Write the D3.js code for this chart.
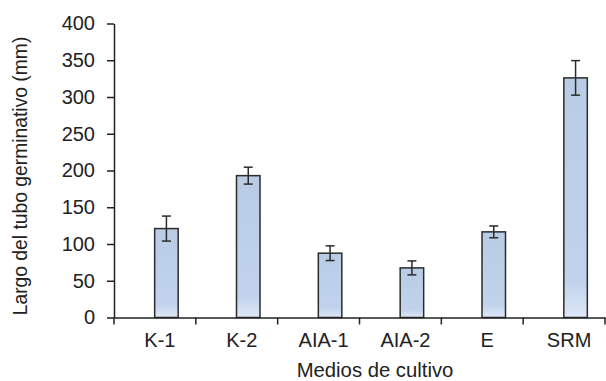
<!DOCTYPE html>
<html>
<head>
<meta charset="utf-8">
<script src="https://cdn.jsdelivr.net/npm/d3@7.9.0/dist/d3.min.js"></script>
<style>
  body { margin: 0; background: #fff; }
  svg { display: block; font-family: "Liberation Sans", Arial, sans-serif; }
</style>
</head>
<body>
<svg id="chart" width="606" height="381"></svg>
<script>
const categories = ["K-1", "K-2", "AIA-1", "AIA-2", "E", "SRM"];
const means = [121, 193, 87.5, 67.5, 116.5, 326];
const errors = [17, 11.5, 10, 9.5, 8, 23.5];
const yTicks = [0, 50, 100, 150, 200, 250, 300, 350, 400];

const svg = d3.select("#chart");
const margin = { left: 114, right: 1, top: 23.5, bottom: 63.5 };
const width = 606, height = 381;

const x = d3.scaleBand()
  .domain(categories)
  .range([margin.left, width - margin.right]);

const y = d3.scaleLinear()
  .domain([0, 400])
  .range([height - margin.bottom, margin.top]);

const defs = svg.append("defs");
const grad = defs.append("linearGradient")
  .attr("id", "barFill")
  .attr("x1", 0).attr("y1", 0).attr("x2", 0).attr("y2", 1);
grad.append("stop").attr("offset", "0%").attr("stop-color", "#b9cce5");
grad.append("stop").attr("offset", "85%").attr("stop-color", "#c0d2ec");
grad.append("stop").attr("offset", "100%").attr("stop-color", "#dfe8f7");

const barW = 23.5;
const barX = (d) => x(d) + x.bandwidth() / 2 + 11.5 - barW / 2;

// bars
svg.append("g")
  .selectAll("rect")
  .data(categories)
  .join("rect")
  .attr("x", (d) => barX(d))
  .attr("y", (d, i) => y(means[i]))
  .attr("width", barW)
  .attr("height", (d, i) => y(0) - y(means[i]))
  .attr("fill", "url(#barFill)")
  .attr("stroke", "#2b2b2b")
  .attr("stroke-width", 1.5);

// error bars
const eb = svg.append("g")
  .attr("stroke", "#2b2b2b")
  .attr("stroke-width", 1.5)
  .selectAll("g")
  .data(categories)
  .join("g")
  .attr("transform", (d) => `translate(${barX(d) + barW / 2},0)`);

eb.append("line")
  .attr("y1", (d, i) => y(means[i] + errors[i]))
  .attr("y2", (d, i) => y(means[i] - errors[i]));
eb.append("line")
  .attr("x1", -4.5).attr("x2", 4.5)
  .attr("y1", (d, i) => y(means[i] + errors[i]))
  .attr("y2", (d, i) => y(means[i] + errors[i]));
eb.append("line")
  .attr("x1", -4.5).attr("x2", 4.5)
  .attr("y1", (d, i) => y(means[i] - errors[i]))
  .attr("y2", (d, i) => y(means[i] - errors[i]));

// y axis
const yAxis = svg.append("g")
  .attr("transform", `translate(${margin.left},0)`)
  .call(d3.axisLeft(y).tickValues(yTicks).tickSize(7).tickPadding(12).tickSizeOuter(0));
yAxis.select(".domain").attr("stroke", "#222").attr("stroke-width", 1.5);
yAxis.selectAll(".tick line").attr("stroke", "#222").attr("stroke-width", 1.5);
yAxis.selectAll(".tick text")
  .attr("font-size", 20)
  .attr("fill", "#222")
  .attr("font-family", "Liberation Sans, Arial, sans-serif");

// x axis
const xAxis = svg.append("g")
  .attr("transform", `translate(0,${y(0)})`)
  .call(d3.axisBottom(x).tickSize(0).tickPadding(0));
xAxis.select(".domain").attr("stroke", "#222").attr("stroke-width", 1.5);
xAxis.selectAll(".tick text").remove();

// boundary tick marks between categories
const bounds = categories.map((d) => x(d)).concat([x(categories[categories.length - 1]) + x.bandwidth()]);
svg.append("g")
  .attr("stroke", "#222")
  .attr("stroke-width", 1.5)
  .selectAll("line")
  .data(bounds)
  .join("line")
  .attr("x1", (d) => d).attr("x2", (d) => d)
  .attr("y1", y(0)).attr("y2", y(0) + 7);

// category labels
svg.append("g")
  .selectAll("text")
  .data(categories)
  .join("text")
  .attr("x", (d) => x(d) + x.bandwidth() / 2 + 5)
  .attr("y", 346.7)
  .attr("text-anchor", "middle")
  .attr("font-size", 20)
  .attr("fill", "#222")
  .text((d) => d);

// axis titles
svg.append("text")
  .attr("x", 375)
  .attr("y", 377)
  .attr("text-anchor", "middle")
  .attr("font-size", 20.3)
  .attr("fill", "#222")
  .text("Medios de cultivo");

svg.append("text")
  .attr("transform", "translate(27,176) rotate(-90)")
  .attr("text-anchor", "middle")
  .attr("font-size", 19.3)
  .attr("fill", "#222")
  .text("Largo del tubo germinativo (mm)");
</script>
</body>
</html>
